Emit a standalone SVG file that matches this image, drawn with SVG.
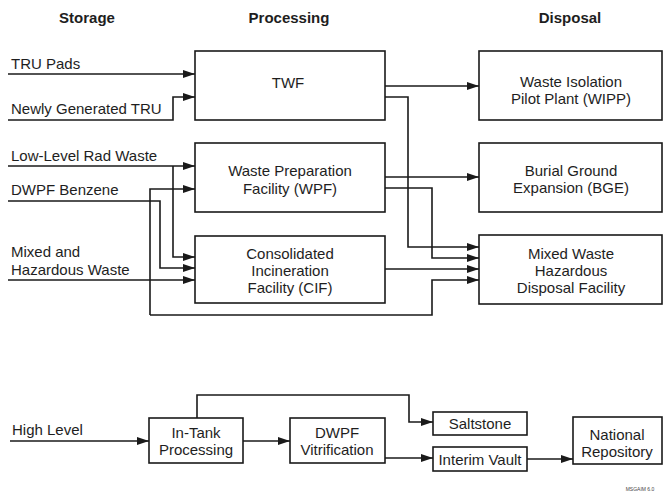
<svg xmlns="http://www.w3.org/2000/svg" width="664" height="497" viewBox="0 0 664 497">
<style>
.box{fill:#fff;stroke:#1a1a1a;stroke-width:1.6}
.t{font-family:"Liberation Sans",Arial,sans-serif;font-size:15px;fill:#1e1e1e}
.c{text-anchor:middle}
.h{font-weight:bold}
.ln{fill:none;stroke:#1a1a1a;stroke-width:1.6}
</style>
<defs>
<marker id="ar" viewBox="0 0 12 8" refX="12" refY="4" markerWidth="12" markerHeight="8" markerUnits="userSpaceOnUse" orient="auto">
<path d="M0,0 L12,4 L0,8 Z" fill="#1a1a1a"/>
</marker>
</defs>
<rect width="664" height="497" fill="#fff"/>
<g id="headers">
<text class="t h c" x="87" y="23">Storage</text>
<text class="t h c" x="289" y="23">Processing</text>
<text class="t h c" x="570" y="23">Disposal</text>
</g>
<g id="inputs">
<text class="t" x="11" y="69">TRU Pads</text>
<text class="t" x="11" y="114">Newly Generated TRU</text>
<text class="t" x="11" y="161">Low-Level Rad Waste</text>
<text class="t" x="11" y="195">DWPF Benzene</text>
<text class="t" x="11" y="257">Mixed and</text>
<text class="t" x="11" y="275">Hazardous Waste</text>
<text class="t" x="12" y="435">High Level</text>
</g>
<g id="twf"><rect class="box" x="195" y="51" width="190" height="69"/><text class="t c" x="288" y="88">TWF</text></g>
<g id="wpf"><rect class="box" x="195" y="143" width="190" height="69"/><text class="t c" x="290" y="176">Waste Preparation</text><text class="t c" x="290" y="194">Facility (WPF)</text></g>
<g id="cif"><rect class="box" x="195" y="236" width="190" height="67"/><text class="t c" x="290" y="259">Consolidated</text><text class="t c" x="290" y="276">Incineration</text><text class="t c" x="290" y="293">Facility (CIF)</text></g>
<g id="wipp"><rect class="box" x="479" y="51" width="183" height="69"/><text class="t c" x="571" y="87">Waste Isolation</text><text class="t c" x="571" y="104">Pilot Plant (WIPP)</text></g>
<g id="bge"><rect class="box" x="479" y="143" width="183" height="69"/><text class="t c" x="571" y="176">Burial Ground</text><text class="t c" x="571" y="193">Expansion (BGE)</text></g>
<g id="mwhdf"><rect class="box" x="479" y="235" width="183" height="69"/><text class="t c" x="571" y="259">Mixed Waste</text><text class="t c" x="571" y="276">Hazardous</text><text class="t c" x="571" y="293">Disposal Facility</text></g>
<g id="intank"><rect class="box" x="149" y="418" width="94" height="45"/><text class="t c" x="196" y="438">In-Tank</text><text class="t c" x="196" y="455">Processing</text></g>
<g id="dwpf"><rect class="box" x="290" y="418" width="95" height="45"/><text class="t c" x="337" y="438">DWPF</text><text class="t c" x="337" y="455">Vitrification</text></g>
<g id="saltstone"><rect class="box" x="433" y="412" width="94" height="23"/><text class="t c" x="480" y="429">Saltstone</text></g>
<g id="vault"><rect class="box" x="433" y="447" width="94" height="24"/><text class="t c" x="480" y="465">Interim Vault</text></g>
<g id="repo"><rect class="box" x="573" y="417" width="89" height="47"/><text class="t c" x="617" y="440">National</text><text class="t c" x="617" y="457">Repository</text></g>
<g id="connectors">
<path class="ln" d="M8,74 H195" marker-end="url(#ar)"/>
<path class="ln" d="M8,120 H173 V97 H195" marker-end="url(#ar)"/>
<path class="ln" d="M8,166 H195" marker-end="url(#ar)"/>
<path class="ln" d="M173,166 V257 H195" marker-end="url(#ar)"/>
<path class="ln" d="M8,201 H160 V268 H195" marker-end="url(#ar)"/>
<path class="ln" d="M150,315 V189 H195" marker-end="url(#ar)"/>
<path class="ln" d="M8,280 H195" marker-end="url(#ar)"/>
<path class="ln" d="M385,86 H479" marker-end="url(#ar)"/>
<path class="ln" d="M385,97 H408 V247 H479" marker-end="url(#ar)"/>
<path class="ln" d="M385,177 H479" marker-end="url(#ar)"/>
<path class="ln" d="M385,188 H432 V258 H479" marker-end="url(#ar)"/>
<path class="ln" d="M385,269 H479" marker-end="url(#ar)"/>
<path class="ln" d="M150,315 H432 V280 H479" marker-end="url(#ar)"/>
<path class="ln" d="M10,441 H149" marker-end="url(#ar)"/>
<path class="ln" d="M243,441 H290" marker-end="url(#ar)"/>
<path class="ln" d="M197,418 V395 H409 V422 H433" marker-end="url(#ar)"/>
<path class="ln" d="M385,458 H433" marker-end="url(#ar)"/>
<path class="ln" d="M527,459 H573" marker-end="url(#ar)"/>
</g>
<text x="640" y="491" font-family="Liberation Sans, Arial, sans-serif" font-size="5" fill="#444" text-anchor="middle">MSGAIM 6.0</text>
</svg>
